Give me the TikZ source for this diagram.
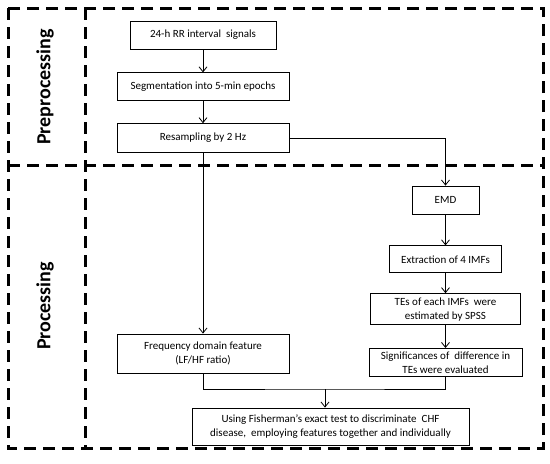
\documentclass[tikz,border=0pt]{standalone}
\usepackage{fontspec}
\setmainfont{Carlito}
\usetikzlibrary{positioning, arrows.meta}

\begin{document}
\begin{tikzpicture}[
  x=1pt, y=-1pt,
  stepbox/.style={draw, line width=0.8pt, align=center, inner sep=2pt,
    minimum height=28pt, font=\fontsize{11}{14}\selectfont},
  arr/.style={-{Straight Barb[length=5pt,width=8pt]}, line width=0.8pt},
  link/.style={line width=0.8pt},
  frame/.style={line width=3pt, dash pattern=on 12pt off 7pt},
  stage/.style={rotate=90, font=\fontsize{20}{24}\selectfont\bfseries}
]
\useasboundingbox (0,0) rectangle (550,464);

% Frame and stage labels
\draw[frame] (8,8) rectangle (543,448);
\draw[frame] (85,8) -- (85,448);
\draw[frame] (8,165) -- (543,165);
\node[stage] (pre) at (45,87) {Preprocessing};
\node[stage] (proc) at (45,306) {Processing};

% Left branch
\node[stepbox, minimum width=146pt] (rr) at (203,35) {24-h RR interval\ \ signals};
\node[stepbox, minimum width=172pt, below=23pt of rr] (seg) {Segmentation into 5-min epochs};
\node[stepbox, minimum width=172pt, minimum height=29pt, below=22pt of seg] (resamp) {Resampling by 2 Hz};
\node[stepbox, minimum width=172pt, minimum height=39pt] (freq) at (203,353.5) {Frequency domain feature\\(LF/HF ratio)};

% Right branch
\node[stepbox, minimum width=67pt] (emd) at (445.5,200) {EMD};
\node[stepbox, minimum width=112pt, minimum height=27pt, below=31pt of emd] (imf) {Extraction of 4 IMFs};
\node[stepbox, minimum width=150pt, minimum height=31pt, below=20pt of imf] (tes) {TEs of each IMFs\ \ were\\estimated by SPSS};
\node[stepbox, minimum width=153pt, below=23pt of tes] (signif) {Significances of\ \ difference in\\TEs were evaluated};

% Final step
\node[stepbox, minimum width=277pt, minimum height=37pt] (fisher) at (330.5,426.5) {Using Fisherman’s exact test to discriminate\ \ CHF\\disease,\ \ employing features together and individually};
\coordinate (merge) at (325,389);

% Connections
\draw[arr] (rr) -- (seg);
\draw[arr] (seg) -- (resamp);
\draw[arr] (resamp) -- (freq);
\draw[arr] (resamp.east) -| (emd.north);
\draw[arr] (emd) -- (imf);
\draw[arr] (imf) -- (tes);
\draw[arr] (tes) -- (signif);
\draw[link] (freq.south) |- (merge) -| (signif.south);
\draw[arr] (merge) -- (merge |- fisher.north);

\end{tikzpicture}
\end{document}
